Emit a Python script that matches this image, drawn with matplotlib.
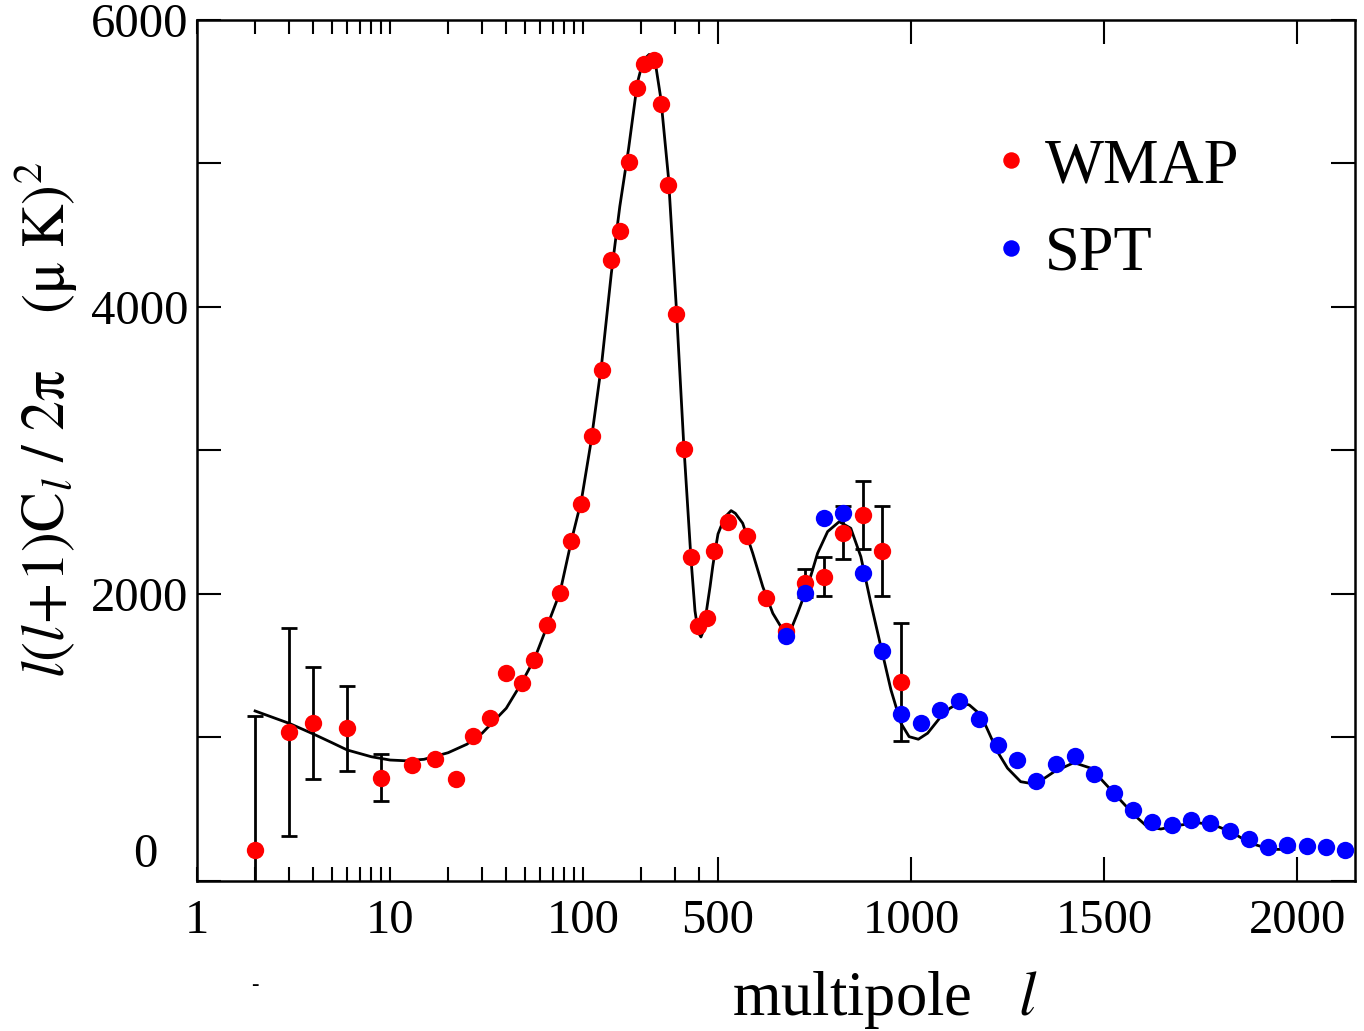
import numpy as np
import matplotlib
matplotlib.use("Agg")
import matplotlib.pyplot as plt

plt.rcParams['font.family'] = ['Liberation Serif', 'DejaVu Serif']
plt.rcParams['mathtext.fontset'] = 'stix'

# WMAP band powers (multipole, l(l+1)Cl/2pi in uK^2)
wmap_l = [2, 3, 4, 6, 9, 13, 17, 22, 27, 33, 40, 48, 56, 65, 76, 87, 98, 111, 125,
          140, 155, 172, 191, 208, 232, 253, 277, 304, 332, 362, 395, 437, 478,
          527, 575, 625, 675, 725, 775, 825, 875, 925, 975]
wmap_d = [215, 1038, 1100, 1061, 717, 808, 847, 710, 1010, 1131, 1445, 1377, 1538,
          1780, 2003, 2365, 2627, 3101, 3562, 4326, 4532, 5012, 5525, 5696, 5723,
          5412, 4847, 3953, 3010, 2257, 1775, 1833, 2299, 2503, 2405, 1970, 1740,
          2073, 2119, 2426, 2549, 2296, 1384]

# error bars drawn on a few WMAP points
err_l = [2, 3, 4, 6, 9, 725, 775, 825, 875, 925, 975]
err_d = [215, 1038, 1100, 1061, 717, 2073, 2119, 2426, 2549, 2296, 1384]
err_lo = [400, 728, 392, 295, 165, 99, 136, 186, 239, 314, 409]
err_hi = [932, 725, 387, 295, 165, 99, 136, 186, 239, 314, 409]

# SPT band powers
spt_l = [675, 725, 775, 825, 875, 925, 975, 1025, 1075, 1125, 1175, 1225, 1275,
         1325, 1375, 1425, 1475, 1525, 1575, 1625, 1675, 1725, 1775, 1825, 1875,
         1925, 1975, 2025, 2075, 2125]
spt_d = [1707, 2007, 2526, 2561, 2147, 1598, 1159, 1100, 1190, 1252, 1128, 945,
         840, 696, 812, 868, 741, 612, 489, 408, 389, 424, 399, 345, 289, 236, 250,
         241, 232, 211]

# best fit model curve
th_l = [2, 3, 4, 5, 6, 8, 10, 12, 15, 20, 25, 30, 40, 48, 56, 65, 76, 87, 98,
        110, 125, 140, 155, 172, 191, 205, 220, 235, 253, 277, 304, 332, 362,
        380, 395, 408, 420, 437, 455, 470, 485, 500, 508, 520, 534, 545, 564,
        590, 616, 642, 668, 685, 706, 732, 758, 784, 814, 844, 870, 896, 922,
        948, 974, 995, 1019, 1043, 1075, 1100, 1125, 1151, 1181, 1224, 1250,
        1284, 1319, 1345, 1371, 1422, 1466, 1526, 1578, 1612, 1647, 1699, 1742,
        1785, 1828, 1880, 1932, 1992]
th_d = [1182, 1096, 1022, 961, 910, 863, 840, 835, 845, 891, 950, 1027, 1201, 1377,
        1545, 1770, 2010, 2370, 2650, 3060, 3610, 4230, 4700, 5100, 5560, 5720,
        5760, 5730, 5450, 4900, 4000, 3050, 2250, 1880, 1730, 1698, 1740, 1891,
        2050, 2193, 2310, 2416, 2470, 2540, 2579, 2560, 2491, 2282, 2049, 1863,
        1747, 1724, 1863, 2049, 2282, 2433, 2502, 2456, 2258, 1933, 1630, 1329,
        1096, 1003, 985, 1027, 1135, 1200, 1240, 1224, 1154, 898, 783, 689, 673,
        712, 759, 822, 783, 608, 457, 375, 359, 387, 403, 387, 340, 259, 217, 217]

L0 = 500.0


def fwd(x):
    x = np.asarray(x, dtype=float)
    lg = np.log10(np.clip(x, 1e-3, None))
    return np.where(x <= L0, lg, np.log10(L0) + (x - L0) / L0)


def inv(y):
    y = np.asarray(y, dtype=float)
    return np.where(y <= np.log10(L0), 10.0 ** y, L0 + (y - np.log10(L0)) * L0)


W, H = 1364, 1031
fig = plt.figure(figsize=(W / 100, H / 100), dpi=100)
ax = fig.add_axes([197 / W, 1 - 880.5 / H, (1355 - 197) / W, (880.5 - 20) / H])
ax.set_xscale('function', functions=(fwd, inv))
ax.set_xlim(1, 2150)
ax.set_ylim(0, 6000)

ax.plot(th_l, th_d, color='black', lw=2.0, zorder=1)
ax.errorbar(err_l, err_d, yerr=[err_lo, err_hi], fmt='none', ecolor='black',
            elinewidth=2.0, capsize=6, capthick=2.0, zorder=2)
ax.plot(wmap_l, wmap_d, 'o', color='#ff0000', ms=12.5, mec='none', zorder=3, label='WMAP')
ax.plot(spt_l, spt_d, 'o', color='#0000ff', ms=12.5, mec='none', zorder=4, label='SPT')

# ticks
minor = [1, 2, 3, 4, 5, 6, 7, 8, 9, 10, 20, 30, 40, 50, 60, 70, 80, 90, 100, 200, 300, 400]
minor_lab = ['1' if m == 1 else '10' if m == 10 else '100' if m == 100 else '' for m in minor]
ax.set_xticks([500, 1000, 1500, 2000])
ax.set_xticklabels(['500', '1000', '1500', '2000'])
ax.set_xticks(minor, minor=True)
ax.set_xticklabels(minor_lab, minor=True)
ax.set_yticks(np.arange(0, 6001, 1000))
ax.set_yticklabels(['', '', '2000', '', '4000', '', '6000'])
ax.set_yticks([], minor=True)
ax.tick_params(axis='both', which='major', direction='in', length=17, width=1.5,
               top=True, right=True, labelsize=35, pad=6)
ax.tick_params(axis='x', which='major', pad=13)
ax.tick_params(axis='x', which='minor', direction='in', length=10, width=1.5,
               top=True, labelsize=35, pad=13)
for s in ax.spines.values():
    s.set_linewidth(1.8)

fig.text(145 / W, 1 - 855 / H, '0', fontsize=35, ha='center', va='center')
fig.text(885 / W, 1 - 1000 / H, r'multipole   $l$', fontsize=45, ha='center', va='center')
fig.text(255 / W, 1 - 985 / H, '-', fontsize=16, ha='center', va='center')
fig.text(45 / W, 1 - 420 / H,
         r'$l(l\!+\!1)\mathrm{C}_l\ /\ \mathrm{2\pi}\quad\ (\mathrm{\mu\ K})^2$',
         fontsize=43, rotation=90, ha='center', va='center')

ax.legend(loc='upper left', bbox_to_anchor=(967 / W, 1 - 107 / H),
          bbox_transform=fig.transFigure, frameon=False, fontsize=45,
          handlelength=0.4, handletextpad=0.34, labelspacing=0.47, borderpad=0,
          markerscale=0.95)

fig.savefig('out.png', dpi=100)
